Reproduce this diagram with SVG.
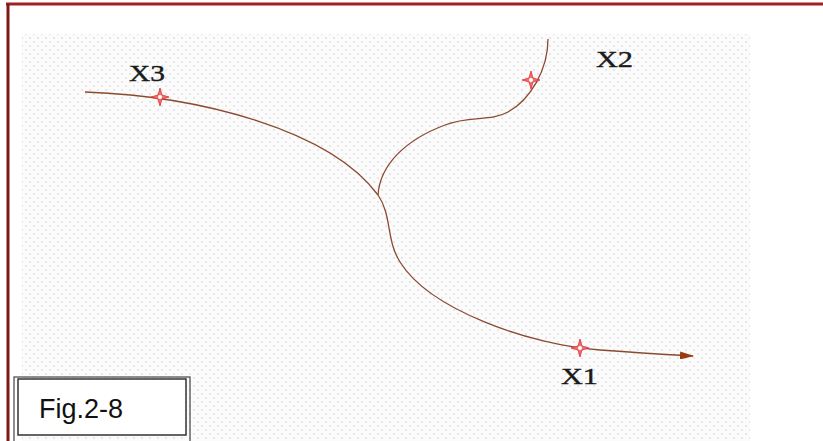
<svg xmlns="http://www.w3.org/2000/svg" width="823" height="441" viewBox="0 0 823 441">
  <defs>
    <pattern id="dots" width="8" height="8" patternUnits="userSpaceOnUse">
      <rect width="8" height="8" fill="#fbfbfb"/>
      <circle cx="2" cy="2" r="0.9" fill="#dedede"/>
      <circle cx="6" cy="6" r="0.9" fill="#dedede"/>
    </pattern>
    <marker id="arrow" viewBox="0 0 14 8" refX="13" refY="4" markerWidth="14" markerHeight="8" orient="auto" markerUnits="userSpaceOnUse">
      <path d="M0,0 L14,4 L0,8 z" fill="#9a3b12"/>
    </marker>
    <symbol id="star" viewBox="-10 -10 20 20" overflow="visible">
      <path d="M0,-9 L2,-2 L9,0 L2,2 L0,9 L-2,2 L-9,0 L-2,-2 z" fill="#f07070" stroke="#e03030" stroke-width="0.8"/>
      <circle r="2" fill="#ffffff"/>
    </symbol>
  </defs>
  <style>
    .curve { fill: none; stroke: #8b4a30; stroke-width: 1.3; }
    .lbl { font-family: "Liberation Serif", "Times New Roman", serif; font-size: 23px; fill: #1a1a1a; stroke: #1a1a1a; stroke-width: 0.4; }
    .fig { font-family: "Liberation Sans", Arial, sans-serif; font-size: 27px; fill: #111; }
  </style>
  <rect width="823" height="441" fill="#ffffff"/>
  <rect x="22" y="34" width="728" height="407" fill="url(#dots)"/>
  <g id="frame">
    <line x1="6" y1="4" x2="823" y2="4" stroke="#a02020" stroke-width="3"/>
    <line x1="8" y1="4" x2="8" y2="441" stroke="#801818" stroke-width="3"/>
  </g>
  <g id="connectors">
    <path class="curve" d="M85,92 C200,96 330,130 378,195 C392,215 386,240 400,262 C430,310 530,345 600,350 C640,353 670,355 693,356" marker-end="url(#arrow)"/>
    <path class="curve" d="M548,39 C548,70 530,100 508,112 C490,122 470,115 445,125 C405,140 380,165 378,195"/>
  </g>
  <g id="X3">
    <use href="#star" x="150" y="87" width="20" height="20"/>
    <text class="lbl" x="129" y="81" textLength="36" lengthAdjust="spacingAndGlyphs">X3</text>
  </g>
  <g id="X2">
    <use href="#star" x="521" y="70" width="20" height="20"/>
    <text class="lbl" x="596" y="67" textLength="37" lengthAdjust="spacingAndGlyphs">X2</text>
  </g>
  <g id="X1">
    <use href="#star" x="570" y="338" width="20" height="20"/>
    <text class="lbl" x="561" y="384" textLength="37" lengthAdjust="spacingAndGlyphs">X1</text>
  </g>
  <g id="figlabel">
    <rect x="14" y="377" width="176" height="66" fill="none" stroke="#444" stroke-width="1.2"/>
    <rect x="18" y="379" width="168" height="56" fill="#ffffff" stroke="#333" stroke-width="1.5"/>
    <text class="fig" x="39" y="418">Fig.2-8</text>
  </g>
</svg>
